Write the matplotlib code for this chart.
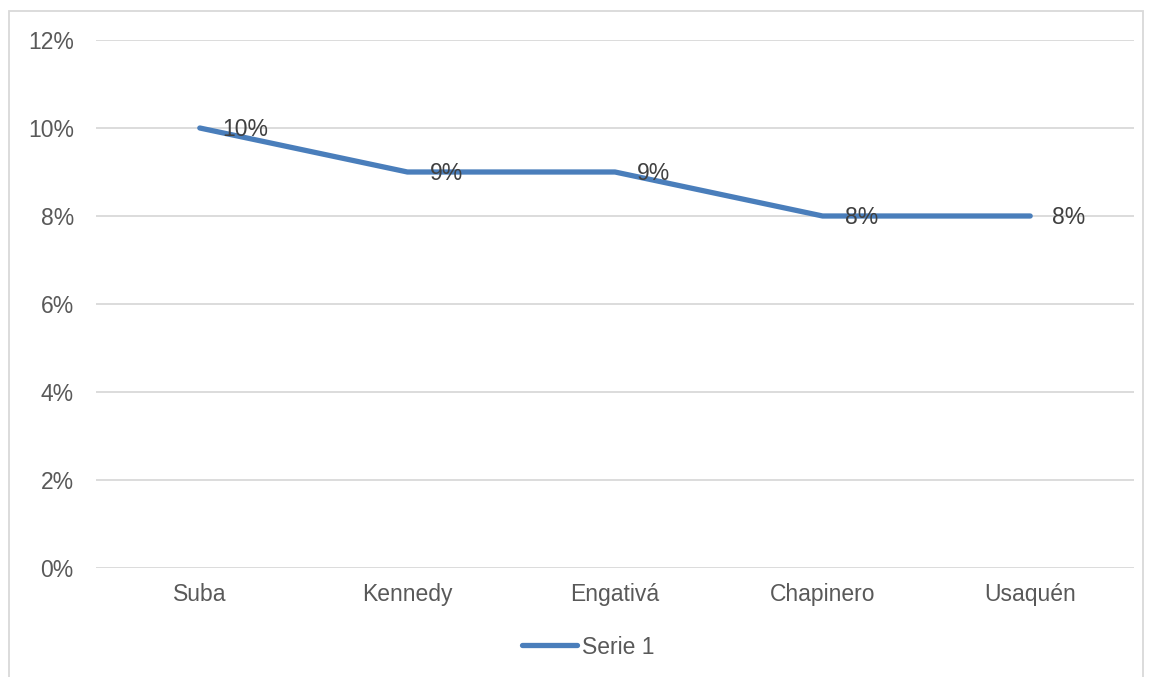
import matplotlib
matplotlib.use('Agg')
import matplotlib.pyplot as plt
from matplotlib.patches import Rectangle
from matplotlib.ticker import PercentFormatter

# Share per locality
localidades = ["Suba", "Kennedy", "Engativá", "Chapinero", "Usaquén"]
valores = [0.10, 0.09, 0.09, 0.08, 0.08]
serie = "Serie 1"
yticks = [0.0, 0.02, 0.04, 0.06, 0.08, 0.10, 0.12]

LINE_COLOR = "#4a7ebb"
GRID_COLOR = "#d9d9d9"
TICK_COLOR = "#595959"
LABEL_COLOR = "#404040"
FS = 16.5

plt.rcParams['font.family'] = ['Liberation Sans', 'DejaVu Sans']

fig = plt.figure(figsize=(11.52, 6.77), dpi=100)
ax = fig.add_axes([96 / 1152, 1 - 568 / 677, (1134 - 96) / 1152, (568 - 40) / 677])

# Chart border (open at the bottom edge of the image)
fig.patches.append(Rectangle((8.5 / 1152, -0.05), (1143 - 8.5) / 1152, 1.05 - 10.5 / 677,
                             transform=fig.transFigure, fill=False,
                             edgecolor=GRID_COLOR, linewidth=1.3))

x = list(range(len(localidades)))
ax.plot(x, valores, color=LINE_COLOR, linewidth=3.8, solid_capstyle='round',
        solid_joinstyle='round', label=serie, zorder=3)

for xi, v in zip(x, valores):
    ax.annotate(f"{v:.0%}", (xi, v), xytext=(16, -1), textcoords='offset points',
                ha='left', va='center', fontsize=FS, color=LABEL_COLOR, zorder=4)

ax.set_xlim(-0.5, len(localidades) - 0.5)
ax.set_ylim(0, 0.12)
ax.set_yticks(yticks)
ax.yaxis.set_major_formatter(PercentFormatter(1.0, decimals=0))
ax.set_xticks(x)
ax.set_xticklabels(localidades)

ax.grid(axis='y', color=GRID_COLOR, linewidth=1.3)
ax.set_axisbelow(True)
for s in ax.spines.values():
    s.set_visible(False)
ax.tick_params(axis='both', length=0, labelsize=FS, labelcolor=TICK_COLOR)
ax.tick_params(axis='y', pad=16)
ax.tick_params(axis='x', pad=11)

fig.legend(loc='center', bbox_to_anchor=(588 / 1152, 1 - 647 / 677), frameon=False,
           fontsize=FS, labelcolor=TICK_COLOR, handlelength=2.4, handletextpad=0.2)

fig.savefig("out.png", dpi=100)
